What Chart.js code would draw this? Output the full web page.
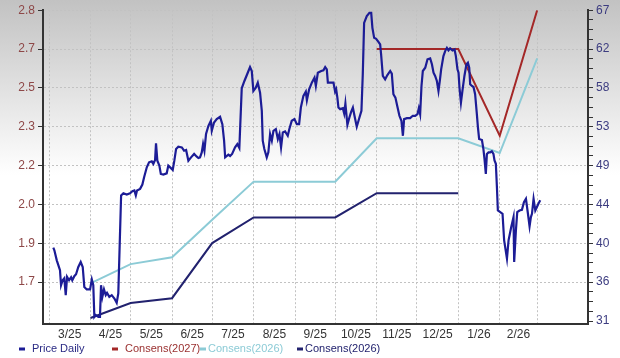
<!DOCTYPE html>
<html><head><meta charset="utf-8">
<script src="https://cdn.jsdelivr.net/npm/chart.js@4.4.0/dist/chart.umd.min.js"></script>
<style>html,body{margin:0;padding:0;background:#fff}#wrap{width:620px;height:358px}</style>
</head><body><div id="wrap"><canvas id="c" width="620" height="358"></canvas></div>
<script>
// x values are days since 1 Mar 2025
const monthLabels = ['3/25','4/25','5/25','6/25','7/25','8/25','9/25','10/25','11/25','12/25','1/26','2/26'];
const monthStartDays = [0,31,61,92,122,153,184,214,245,275,306,337,365];
const epsTicks = [2.81,2.655,2.5,2.345,2.19,2.035,1.88,1.725];
const priceTickTop = 66.6;
const priceTickStep = 4.43;

const consDays = [31,61,92,122,153,184,214,245,275,306,337,365];
const cons2025 = [1.582,1.642,1.661,1.881,1.983,1.983,1.983,2.080,2.080,2.080,null,null];
const cons2026 = [1.720,1.797,1.824,1.974,2.126,2.126,2.126,2.299,2.299,2.299,2.240,2.618];
const cons2027 = [null,null,null,null,null,null,null,2.655,2.655,2.655,2.309,2.810];

const priceDays = [3.2,4.0,5.8,8.2,9.0,10.2,11.4,12.5,13.5,15.0,16.5,17.4,18.9,20.2,21.9,23.7,25.2,26.4,28.2,30.7,32.0,33.1,33.9,34.9,36.9,38.1,38.9,39.9,41.1,42.4,43.4,45.1,46.9,48.9,50.6,51.8,53.9,55.6,58.1,60.6,62.3,63.8,64.9,65.8,68.1,69.8,71.1,73.1,74.8,76.8,78.0,79.3,80.0,81.0,82.5,83.6,85.5,88.0,89.2,91.0,92.5,93.7,95.0,96.7,99.3,101.0,102.5,104.2,106.2,108.5,110.5,111.7,112.9,114.2,115.2,116.2,117.4,119.2,121.0,121.7,123.4,125.4,127.9,129.6,130.9,131.7,134.1,135.4,136.9,139.1,140.8,142.3,144.1,146.1,148.6,150.3,151.6,152.8,154.6,156.1,157.8,159.1,159.8,161.0,162.8,164.0,165.3,166.6,167.8,169.6,171.1,172.3,173.5,174.8,176.5,178.5,179.7,181.5,183.5,185.3,187.0,188.3,190.2,192.0,192.8,194.5,196.5,198.5,199.5,201.0,203.5,205.2,206.5,207.7,208.5,210.2,212.7,213.9,214.7,215.6,216.4,217.7,219.7,220.7,221.6,223.1,224.6,225.9,227.2,228.4,230.1,232.1,233.6,234.6,235.6,237.6,239.6,240.9,241.8,243.1,244.6,246.3,247.6,248.3,249.6,251.3,253.0,255.1,256.3,257.5,259.0,260.5,262.0,263.5,264.6,265.5,267.6,270.0,272.0,273.8,275.5,276.5,277.5,278.5,279.5,281.3,283.0,285.0,286.3,287.5,288.7,290.0,291.2,292.2,293.2,294.9,296.2,297.5,298.7,299.9,301.7,303.2,304.2,305.4,306.2,306.9,308.0,309.1,310.6,312.1,313.2,314.2,314.9,316.2,317.4,318.6,319.9,320.7,321.6,323.7,324.8,325.6,326.6,327.4,328.6,329.9,331.1,332.3,333.1,334.1,334.9,335.6,337.4,339.1,340.3,342.4,343.6,345.6,347.3,347.8,349.1,350.1,351.8,353.6,355.1,356.6,358.1,359.3,360.3,361.1,362.3,363.6,364.8,366.0,367.3];
const priceValues = [39.53,39.22,38.08,36.95,35.24,35.81,36.04,34.11,36.19,35.81,36.15,35.81,36.27,36.49,37.32,37.89,37.32,35.05,34.76,34.76,35.89,35.24,31.64,31.84,31.64,31.64,35.24,33.92,34.76,34.11,34.37,33.92,34.11,33.73,33.23,34.30,45.47,45.73,45.58,45.73,45.96,46.04,45.47,46.04,46.23,46.72,47.55,48.69,49.26,49.37,49.07,49.53,51.41,49.44,48.88,47.93,47.85,48.00,48.88,48.62,48.39,49.44,50.77,51.03,50.95,50.58,50.66,49.44,49.82,50.21,49.90,49.75,49.82,50.39,51.34,50.58,52.48,53.42,53.99,52.85,53.79,54.18,54.44,53.61,51.72,49.82,50.13,49.98,50.21,50.96,51.34,50.89,57.70,58.53,59.47,60.12,59.67,57.40,57.77,58.34,57.20,55.12,51.72,50.77,49.82,50.39,52.48,51.72,52.85,53.05,51.91,52.48,50.96,52.66,52.77,52.28,53.05,53.99,54.18,53.61,53.61,55.50,56.83,57.32,56.34,57.59,58.34,58.91,57.96,59.47,59.67,59.75,60.12,59.86,58.34,58.34,58.34,57.32,57.59,56.63,55.50,55.32,55.43,54.82,55.95,53.53,54.36,55.01,55.50,54.56,53.31,54.36,55.12,59.29,65.15,65.92,66.29,66.29,64.59,63.45,63.34,62.99,62.70,61.56,59.10,58.72,59.21,59.67,59.36,57.02,56.63,55.58,54.56,53.99,52.28,54.18,54.29,54.29,54.56,54.56,54.75,55.43,54.75,57.96,59.67,60.04,61.00,61.11,60.43,59.47,59.10,58.53,57.40,58.53,59.86,61.37,61.94,62.31,62.02,62.25,62.02,62.13,61.37,59.86,59.47,57.77,56.06,57.40,59.10,60.43,60.61,60.04,58.16,57.96,57.85,57.02,54.75,53.23,51.91,51.80,50.77,49.64,47.93,50.21,50.39,50.39,50.52,50.21,49.47,49.09,46.41,43.76,43.57,43.39,40.36,38.28,40.36,41.87,43.01,37.89,41.49,43.57,43.76,43.84,44.71,45.09,43.39,41.95,43.01,43.39,45.09,43.76,44.16,44.55,44.92];

const C_PRICE = '#1c1c96', C_27 = '#a42828', C_26 = '#8ccbd6', C_25 = '#22226e';
const FONT = 'Liberation Sans, Arial, sans-serif';

const pts = (xs, ys) => xs.map((x, i) => ({x, y: ys[i]}));
const midDays = monthLabels.map((_, i) => (monthStartDays[i] + monthStartDays[i+1]) / 2);

const bgPlugin = {
  id: 'bg',
  beforeDraw(chart) {
    const ctx = chart.ctx;
    const g = ctx.createLinearGradient(0, 0, 0, 175);
    g.addColorStop(0, '#c2c2c2');
    g.addColorStop(1, '#ffffff');
    ctx.save();
    ctx.fillStyle = g;
    ctx.fillRect(0, 0, chart.width, chart.height);
    ctx.restore();
  }
};

// legend drawn in fixed slots, like the reference
const legendPlugin = {
  id: 'fixedLegend',
  afterDraw(chart) {
    const ctx = chart.ctx;
    const markX = [19, 112, 200, 297];
    const textX = [32, 125, 208, 305];
    const y = 349;
    ctx.save();
    ctx.font = '11px ' + FONT;
    ctx.textBaseline = 'middle';
    ctx.textAlign = 'left';
    chart.data.datasets.forEach((d, i) => {
      ctx.fillStyle = d.borderColor;
      ctx.fillRect(markX[i], y - 1.5, 6, 3);
      ctx.fillStyle = d.legendColor || d.borderColor;
      ctx.fillText(d.label, textX[i], y);
    });
    ctx.restore();
  }
};

new Chart(document.getElementById('c'), {
  type: 'line',
  data: {
    datasets: [
      {label: 'Price Daily', data: pts(priceDays, priceValues), yAxisID: 'y2', borderColor: C_PRICE, legendColor: '#2a2a84', borderWidth: 2.2, pointRadius: 0, order: 0},
      {label: 'Consens(2027)', data: pts(consDays, cons2027), yAxisID: 'y', borderColor: C_27, legendColor: '#9a3030', borderWidth: 2, pointRadius: 0, order: 1},
      {label: 'Consens(2026)', data: pts(consDays, cons2026), yAxisID: 'y', borderColor: C_26, borderWidth: 2, pointRadius: 0, order: 2},
      {label: 'Consens(2026)', data: pts(consDays, cons2025), yAxisID: 'y', borderColor: C_25, borderWidth: 2, pointRadius: 0, order: 3}
    ]
  },
  options: {
    responsive: false, animation: false, devicePixelRatio: 1,
    layout: {padding: {top: 9, left: 0, right: 0, bottom: 0}},
    plugins: {tooltip: {enabled: false}, legend: {display: false}},
    scales: {
      x: {
        type: 'linear', min: -4.5, max: 403,
        afterBuildTicks(s) {
          const t = [];
          monthStartDays.forEach(v => t.push({value: v}));
          midDays.forEach(v => t.push({value: v}));
          t.sort((a, b) => a.value - b.value);
          s.ticks = t;
        },
        afterFit(s) { s.height = 34; },
        ticks: {
          autoSkip: false, maxRotation: 0, padding: 3, color: '#333',
          font: {family: FONT, size: 12},
          callback(v) { const i = midDays.indexOf(v); return i >= 0 ? monthLabels[i] : ''; }
        },
        grid: {
          drawTicks: false,
          color(ctx) { return ctx.tick && monthStartDays.includes(ctx.tick.value) ? '#c2c2c2' : 'rgba(0,0,0,0)'; }
        },
        border: {display: true, color: '#333', width: 2, dash: [2, 2]}
      },
      y: {
        position: 'left', min: 1.558, max: 2.81,
        afterBuildTicks(s) { s.ticks = epsTicks.map(v => ({value: v})); },
        afterFit(s) { s.width = 43; },
        ticks: {
          autoSkip: false, padding: 3, color: '#8e4848',
          font: {family: FONT, size: 12},
          callback(v) { return v.toFixed(1); }
        },
        grid: {color: '#c2c2c2', tickColor: '#333', tickLength: 5, tickWidth: 1},
        border: {display: true, color: '#333', width: 2, dash: [2, 2]}
      },
      y2: {
        position: 'right', min: 30.82, max: 66.6,
        afterBuildTicks(s) {
          const t = [];
          for (let k = 0; k <= 32; k++) t.push({value: priceTickTop - k * priceTickStep / 4});
          s.ticks = t;
        },
        afterFit(s) { s.width = 32; },
        ticks: {
          autoSkip: false, padding: 3, color: '#3c3c80',
          font: {family: FONT, size: 12},
          callback(v, i) { return i % 4 === 0 ? String(Math.round(v)) : ''; }
        },
        grid: {drawOnChartArea: false, tickColor: '#333', tickLength: 5, tickWidth: 1},
        border: {display: true, color: '#333', width: 2}
      }
    }
  },
  plugins: [bgPlugin, legendPlugin]
});
</script></body></html>
